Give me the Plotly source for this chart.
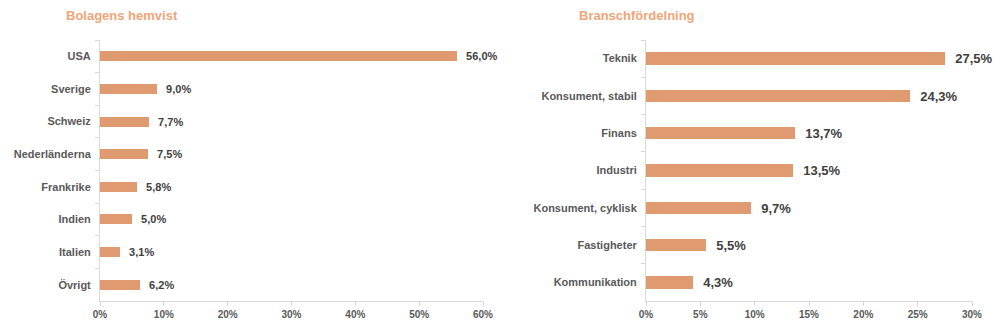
import plotly.graph_objects as go

# Data
countries = ["USA", "Sverige", "Schweiz", "Nederländerna", "Frankrike", "Indien", "Italien", "Övrigt"]
country_values = [56.0, 9.0, 7.7, 7.5, 5.8, 5.0, 3.1, 6.2]

sectors = ["Teknik", "Konsument, stabil", "Finans", "Industri", "Konsument, cyklisk", "Fastigheter", "Kommunikation"]
sector_values = [27.5, 24.3, 13.7, 13.5, 9.7, 5.5, 4.3]

left_ticks = [0, 10, 20, 30, 40, 50, 60]
right_ticks = [0, 5, 10, 15, 20, 25, 30]

BAR = "#DF9A6F"
TITLE = "#EFA578"
LABEL = "#595959"
VALUE = "#404040"
AXIS = "#D9D9D9"
FONT = "Liberation Sans, Arial, sans-serif"

fig = go.Figure()

fig.add_trace(go.Bar(
    x=country_values, y=countries, orientation="h",
    marker=dict(color=BAR, line=dict(width=0)),
    width=0.31,
    text=["\u00a0\u00a0" + f"{v:.1f}%".replace(".", ",") for v in country_values],
    textposition="outside", cliponaxis=False, constraintext="none",
    textfont=dict(family=FONT, size=11, color=VALUE, weight="bold"),
    xaxis="x", yaxis="y", showlegend=False, hoverinfo="skip",
))

fig.add_trace(go.Bar(
    x=sector_values, y=sectors, orientation="h",
    marker=dict(color=BAR, line=dict(width=0)),
    width=0.33,
    text=["\u00a0\u00a0" + f"{v:.1f}%".replace(".", ",") for v in sector_values],
    textposition="outside", cliponaxis=False, constraintext="none",
    textfont=dict(family=FONT, size=13, color=VALUE, weight="bold"),
    xaxis="x2", yaxis="y2", showlegend=False, hoverinfo="skip",
))

W, H = 1002, 330
y0 = 1 - 301 / H
y1 = 1 - 40 / H

common_x = dict(
    showgrid=False, zeroline=False, automargin=False,
    showline=True, linecolor=AXIS, linewidth=1,
    ticks="outside", ticklen=4, tickcolor=AXIS,
    tickfont=dict(family=FONT, size=10, color=LABEL, weight="bold"),
    fixedrange=True,
)
common_y = dict(
    type="category", autorange="reversed", showgrid=False, zeroline=False, automargin=False,
    showline=True, linecolor=AXIS, linewidth=1,
    ticks="outside", ticklen=4, tickcolor=AXIS, tickson="boundaries",
    tickfont=dict(family=FONT, size=11, color=LABEL, weight="bold"),
    ticklabelstandoff=6,
    fixedrange=True,
)

fig.update_layout(
    width=W, height=H,
    margin=dict(l=0, r=0, t=0, b=0, autoexpand=False),
    paper_bgcolor="white", plot_bgcolor="white",
    font=dict(family=FONT),
    bargap=0,
    xaxis=dict(domain=[100 / W, 483 / W], range=[0, 60], tickvals=left_ticks,
               ticktext=[f"{t}%" for t in left_ticks], anchor="y", **common_x),
    yaxis=dict(domain=[y0, y1], anchor="x", **common_y),
    xaxis2=dict(domain=[646 / W, 972 / W], range=[0, 30], tickvals=right_ticks,
                ticktext=[f"{t}%" for t in right_ticks], anchor="y2", **common_x),
    yaxis2=dict(domain=[y0, y1], anchor="x2", **common_y),
    annotations=[
        dict(text="Bolagens hemvist", x=64 / W, y=1 - 6 / H, xref="paper", yref="paper",
             xanchor="left", yanchor="top", showarrow=False,
             font=dict(family=FONT, size=13, color=TITLE, weight="bold")),
        dict(text="Branschfördelning", x=577 / W, y=1 - 6 / H, xref="paper", yref="paper",
             xanchor="left", yanchor="top", showarrow=False,
             font=dict(family=FONT, size=13, color=TITLE, weight="bold")),
    ],
)

fig.write_html("out.html")
